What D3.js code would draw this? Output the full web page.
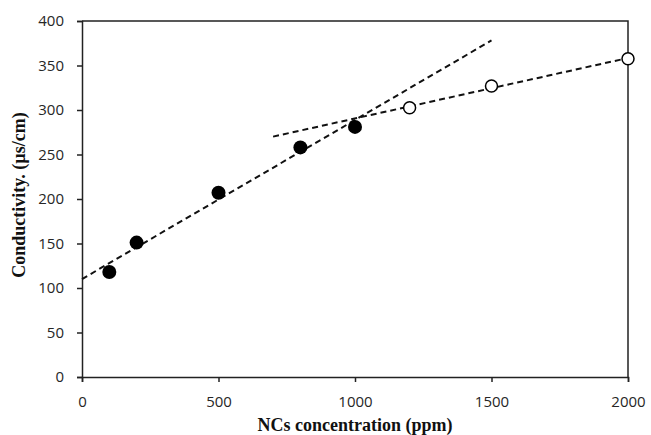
<!DOCTYPE html>
<html>
<head>
  <meta charset="utf-8">
  <title>Conductivity vs NCs concentration</title>
  <script src="https://d3js.org/d3.v7.min.js"></script>
  <style>
    body { margin: 0; background: #fff; }
  </style>
</head>
<body>
  <div id="chart"></div>
  <script>
    // filled points (below ~1000 ppm) and open points (above)
    var filledX = [100, 200, 500, 800, 1000];
    var filledY = [118, 151, 207, 258, 281];
    var openX = [1200, 1500, 2000];
    var openY = [302.5, 327, 357.5];

    // x range each least-squares trend line is drawn over
    var trendFilledRange = [0, 1500];
    var trendOpenRange = [700, 2000];

    var xTicks = [0, 500, 1000, 1500, 2000];
    var yTicks = [0, 50, 100, 150, 200, 250, 300, 350, 400];

    var W = 651, H = 435;
    var margin = {top: 21, right: 23, bottom: 58, left: 82};
    var width = W - margin.left - margin.right,
        height = H - margin.top - margin.bottom;

    var svg = d3.select("#chart").append("svg")
        .attr("width", W)
        .attr("height", H)
      .append("g")
        .attr("transform", "translate(" + margin.left + "," + margin.top + ")");

    var x = d3.scaleLinear().domain([0, 2000]).range([0, width]);
    var y = d3.scaleLinear().domain([0, 400]).range([height, 0]);

    // frame (top + right)
    svg.append("path")
      .attr("d", "M0,0H" + width + "V" + height)
      .attr("fill", "none")
      .attr("stroke", "#222")
      .attr("stroke-width", 1.5);

    var xAxis = svg.append("g")
      .attr("transform", "translate(0," + height + ")")
      .call(d3.axisBottom(x).tickValues(xTicks).tickSize(5).tickPadding(14).tickFormat(d3.format("d")));
    var yAxis = svg.append("g")
      .call(d3.axisLeft(y).tickValues(yTicks).tickSize(5).tickPadding(13).tickFormat(d3.format("d")));
    [xAxis, yAxis].forEach(function(a) {
      a.select(".domain").attr("stroke", "#222").attr("stroke-width", 1.5);
      a.selectAll(".tick line").attr("stroke", "#222").attr("stroke-width", 1.5);
      a.selectAll(".tick text")
        .style("font-family", "'Open Sans', 'Liberation Sans', sans-serif")
        .style("font-size", "15px")
        .style("fill", "#262626");
    });

    function fit(xs, ys) {
      var mx = d3.mean(xs), my = d3.mean(ys);
      var sxy = d3.sum(xs, function(v, i) { return (v - mx) * (ys[i] - my); });
      var sxx = d3.sum(xs, function(v) { return (v - mx) * (v - mx); });
      var b = sxy / sxx;
      return {a: my - b * mx, b: b};
    }

    function trend(xs, ys, range) {
      var f = fit(xs, ys);
      svg.append("path")
        .datum(range)
        .attr("d", d3.line()
          .x(function(d) { return x(d); })
          .y(function(d) { return y(f.a + f.b * d); }))
        .attr("fill", "none")
        .attr("stroke", "#111")
        .attr("stroke-width", 2)
        .attr("stroke-dasharray", "6,4");
    }
    trend(filledX, filledY, trendFilledRange);
    trend(openX, openY, trendOpenRange);

    svg.selectAll(".filled")
      .data(filledX)
      .enter().append("circle")
        .attr("cx", function(d) { return x(d); })
        .attr("cy", function(d, i) { return y(filledY[i]); })
        .attr("r", 7)
        .attr("fill", "#000");

    svg.selectAll(".open")
      .data(openX)
      .enter().append("circle")
        .attr("cx", function(d) { return x(d); })
        .attr("cy", function(d, i) { return y(openY[i]); })
        .attr("r", 6)
        .attr("fill", "#fff")
        .attr("stroke", "#000")
        .attr("stroke-width", 1.5);

    function title(sel) {
      sel.style("font-family", "'Liberation Serif', 'Times New Roman', serif")
        .style("font-weight", "bold")
        .style("font-size", "18px")
        .style("fill", "#111")
        .attr("text-anchor", "middle");
    }

    svg.append("text")
      .attr("x", 273)
      .attr("y", height + 54)
      .call(title)
      .text("NCs concentration (ppm)");

    svg.append("text")
      .attr("transform", "translate(-57," + (y(200) - 4) + ") rotate(-90)")
      .call(title)
      .text("Conductivity. (µs/cm)");
  </script>
</body>
</html>
